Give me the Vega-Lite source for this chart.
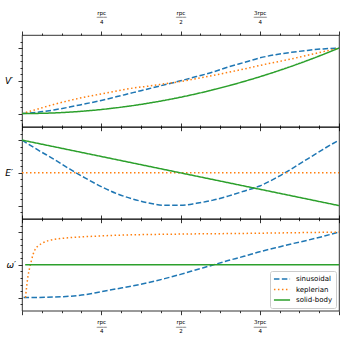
{
  "$schema": "https://vega.github.io/schema/vega-lite/v6.json",
  "padding": {"left": 3, "top": 9, "right": 3, "bottom": 3},
  "spacing": 0,
  "bounds": "flush",
  "config": {
    "font": "DejaVu Sans",
    "view": {"stroke": "black", "strokeWidth": 0.8},
    "axis": {"domain": false, "grid": false, "tickColor": "black", "labelColor": "black", "titleColor": "black"}
  },
  "resolve": {"legend": {"color": "independent", "strokeDash": "independent"}},
  "datasets": {
    "V": [
      {"series": "sinusoidal", "x": 0, "y": 0}, {"series": "sinusoidal", "x": 0.05, "y": 0.02}, {"series": "sinusoidal", "x": 0.1, "y": 0.055}, {"series": "sinusoidal", "x": 0.15, "y": 0.1}, {"series": "sinusoidal", "x": 0.2, "y": 0.15}, {"series": "sinusoidal", "x": 0.25, "y": 0.2}, {"series": "sinusoidal", "x": 0.3, "y": 0.26}, {"series": "sinusoidal", "x": 0.35, "y": 0.32}, {"series": "sinusoidal", "x": 0.4, "y": 0.38}, {"series": "sinusoidal", "x": 0.45, "y": 0.44}, {"series": "sinusoidal", "x": 0.5, "y": 0.5}, {"series": "sinusoidal", "x": 0.55, "y": 0.565}, {"series": "sinusoidal", "x": 0.6, "y": 0.63}, {"series": "sinusoidal", "x": 0.65, "y": 0.71}, {"series": "sinusoidal", "x": 0.7, "y": 0.78}, {"series": "sinusoidal", "x": 0.75, "y": 0.85}, {"series": "sinusoidal", "x": 0.8, "y": 0.9}, {"series": "sinusoidal", "x": 0.85, "y": 0.935}, {"series": "sinusoidal", "x": 0.9, "y": 0.965}, {"series": "sinusoidal", "x": 0.95, "y": 0.988}, {"series": "sinusoidal", "x": 1, "y": 1},
      {"series": "keplerian", "x": 0, "y": 0}, {"series": "keplerian", "x": 0.05, "y": 0.07}, {"series": "keplerian", "x": 0.1, "y": 0.14}, {"series": "keplerian", "x": 0.15, "y": 0.2}, {"series": "keplerian", "x": 0.2, "y": 0.255}, {"series": "keplerian", "x": 0.25, "y": 0.3}, {"series": "keplerian", "x": 0.3, "y": 0.345}, {"series": "keplerian", "x": 0.35, "y": 0.39}, {"series": "keplerian", "x": 0.4, "y": 0.42}, {"series": "keplerian", "x": 0.45, "y": 0.455}, {"series": "keplerian", "x": 0.5, "y": 0.49}, {"series": "keplerian", "x": 0.55, "y": 0.535}, {"series": "keplerian", "x": 0.6, "y": 0.58}, {"series": "keplerian", "x": 0.65, "y": 0.63}, {"series": "keplerian", "x": 0.7, "y": 0.68}, {"series": "keplerian", "x": 0.75, "y": 0.735}, {"series": "keplerian", "x": 0.8, "y": 0.785}, {"series": "keplerian", "x": 0.85, "y": 0.835}, {"series": "keplerian", "x": 0.9, "y": 0.89}, {"series": "keplerian", "x": 0.95, "y": 0.945}, {"series": "keplerian", "x": 1, "y": 1},
      {"series": "solid-body", "x": 0, "y": 0}, {"series": "solid-body", "x": 0.1, "y": 0.01}, {"series": "solid-body", "x": 0.2, "y": 0.04}, {"series": "solid-body", "x": 0.3, "y": 0.09}, {"series": "solid-body", "x": 0.4, "y": 0.16}, {"series": "solid-body", "x": 0.5, "y": 0.25}, {"series": "solid-body", "x": 0.6, "y": 0.36}, {"series": "solid-body", "x": 0.7, "y": 0.49}, {"series": "solid-body", "x": 0.8, "y": 0.64}, {"series": "solid-body", "x": 0.9, "y": 0.81}, {"series": "solid-body", "x": 1, "y": 1}
    ],
    "E": [
      {"series": "sinusoidal", "x": 0, "y": 1}, {"series": "sinusoidal", "x": 0.05, "y": 0.85}, {"series": "sinusoidal", "x": 0.1, "y": 0.71}, {"series": "sinusoidal", "x": 0.15, "y": 0.56}, {"series": "sinusoidal", "x": 0.2, "y": 0.42}, {"series": "sinusoidal", "x": 0.25, "y": 0.29}, {"series": "sinusoidal", "x": 0.3, "y": 0.18}, {"series": "sinusoidal", "x": 0.35, "y": 0.1}, {"series": "sinusoidal", "x": 0.4, "y": 0.04}, {"series": "sinusoidal", "x": 0.45, "y": 0.005}, {"series": "sinusoidal", "x": 0.5, "y": 0.005}, {"series": "sinusoidal", "x": 0.55, "y": 0.035}, {"series": "sinusoidal", "x": 0.6, "y": 0.08}, {"series": "sinusoidal", "x": 0.65, "y": 0.145}, {"series": "sinusoidal", "x": 0.7, "y": 0.22}, {"series": "sinusoidal", "x": 0.75, "y": 0.3}, {"series": "sinusoidal", "x": 0.8, "y": 0.42}, {"series": "sinusoidal", "x": 0.85, "y": 0.56}, {"series": "sinusoidal", "x": 0.9, "y": 0.71}, {"series": "sinusoidal", "x": 0.95, "y": 0.86}, {"series": "sinusoidal", "x": 1, "y": 1},
      {"series": "keplerian", "x": 0, "y": 0.5}, {"series": "keplerian", "x": 1, "y": 0.5},
      {"series": "solid-body", "x": 0, "y": 1}, {"series": "solid-body", "x": 1, "y": 0}
    ],
    "W": [
      {"series": "sinusoidal", "x": 0.005, "y": 0}, {"series": "sinusoidal", "x": 0.05, "y": 0.002}, {"series": "sinusoidal", "x": 0.1, "y": 0.008}, {"series": "sinusoidal", "x": 0.15, "y": 0.02}, {"series": "sinusoidal", "x": 0.2, "y": 0.045}, {"series": "sinusoidal", "x": 0.25, "y": 0.09}, {"series": "sinusoidal", "x": 0.3, "y": 0.135}, {"series": "sinusoidal", "x": 0.35, "y": 0.18}, {"series": "sinusoidal", "x": 0.4, "y": 0.23}, {"series": "sinusoidal", "x": 0.45, "y": 0.29}, {"series": "sinusoidal", "x": 0.5, "y": 0.355}, {"series": "sinusoidal", "x": 0.55, "y": 0.425}, {"series": "sinusoidal", "x": 0.6, "y": 0.495}, {"series": "sinusoidal", "x": 0.65, "y": 0.565}, {"series": "sinusoidal", "x": 0.7, "y": 0.63}, {"series": "sinusoidal", "x": 0.75, "y": 0.7}, {"series": "sinusoidal", "x": 0.8, "y": 0.76}, {"series": "sinusoidal", "x": 0.85, "y": 0.82}, {"series": "sinusoidal", "x": 0.9, "y": 0.875}, {"series": "sinusoidal", "x": 0.95, "y": 0.935}, {"series": "sinusoidal", "x": 1, "y": 1},
      {"series": "keplerian", "x": 0.011, "y": 0}, {"series": "keplerian", "x": 0.015, "y": 0.18}, {"series": "keplerian", "x": 0.019, "y": 0.33}, {"series": "keplerian", "x": 0.024, "y": 0.45}, {"series": "keplerian", "x": 0.029, "y": 0.55}, {"series": "keplerian", "x": 0.035, "y": 0.66}, {"series": "keplerian", "x": 0.041, "y": 0.73}, {"series": "keplerian", "x": 0.051, "y": 0.79}, {"series": "keplerian", "x": 0.064, "y": 0.83}, {"series": "keplerian", "x": 0.083, "y": 0.87}, {"series": "keplerian", "x": 0.104, "y": 0.89}, {"series": "keplerian", "x": 0.15, "y": 0.915}, {"series": "keplerian", "x": 0.2, "y": 0.93}, {"series": "keplerian", "x": 0.3, "y": 0.952}, {"series": "keplerian", "x": 0.5, "y": 0.97}, {"series": "keplerian", "x": 0.7, "y": 0.98}, {"series": "keplerian", "x": 0.85, "y": 0.99}, {"series": "keplerian", "x": 1, "y": 1},
      {"series": "solid-body", "x": 0.01, "y": 0.5}, {"series": "solid-body", "x": 1, "y": 0.5}
    ]
  },
  "vconcat": [
    {
      "width": 317, "height": 91.7,
      "data": {"name": "V"},
      "layer": [
        {
          "mark": {"type": "line", "strokeWidth": 1.5, "interpolate": "monotone"},
          "encoding": {
            "x": {"field": "x", "type": "quantitative", "scale": {"domain": [0, 1], "nice": false, "zero": false},
              "axis": {"orient": "bottom", "title": null, "labels": false, "values": [0,0.0625,0.125,0.1875,0.25,0.3125,0.375,0.4375,0.5,0.5625,0.625,0.6875,0.75,0.8125,0.875,0.9375,1],
                "tickSize": {"condition": {"test": "datum.value * 4 % 1 == 0", "value": 4}, "value": 2}, "tickWidth": 0.8}},
            "y": {"field": "y", "type": "quantitative", "scale": {"domain": [-0.2, 1.2], "nice": false, "zero": false},
              "axis": {"orient": "left", "title": "V′", "titleAngle": 0, "titleAlign": "right", "titleBaseline": "middle", "titleFontSize": 9, "titleFontStyle": "italic", "titleFontWeight": "normal", "titlePadding": 5, "labels": false,
                "values": [-0.1,0,0.1,0.2,0.3,0.4,0.5,0.6,0.7,0.8,0.9,1,1.1],
                "tickSize": {"condition": {"test": "datum.value * 2 % 1 == 0", "value": 4}, "value": 2}, "tickWidth": 0.8}},
            "color": {"field": "series", "type": "nominal", "scale": {"domain": ["sinusoidal", "keplerian", "solid-body"], "range": ["#1f77b4", "#ff7f0e", "#2ca02c"]}, "legend": null},
            "strokeDash": {"field": "series", "type": "nominal", "scale": {"domain": ["sinusoidal", "keplerian", "solid-body"], "range": [[5.5, 2.4], [1.5, 2.5], [1, 0]]}, "legend": null}
          }
        },
        {
          "mark": {"type": "point", "opacity": 0},
          "encoding": {
            "x": {"field": "x", "type": "quantitative",
              "axis": {"orient": "top", "title": null, "values": [0,0.0625,0.125,0.1875,0.25,0.3125,0.375,0.4375,0.5,0.5625,0.625,0.6875,0.75,0.8125,0.875,0.9375,1],
                "labelExpr": "datum.value == 0.25 ? ['rpc','───','4'] : datum.value == 0.5 ? ['rpc','───','2'] : datum.value == 0.75 ? ['3rpc','────','4'] : ''",
                "labelFontSize": 5.5, "labelLineHeight": 4.5, "labelBaseline": "top", "labelPadding": 21, "labelOverlap": false, "labelFlush": false,
                "tickSize": {"condition": {"test": "datum.value * 4 % 1 == 0", "value": 4}, "value": 2}, "tickWidth": 0.8}},
            "y": {"field": "y", "type": "quantitative", "axis": null}
          }
        }
      ],
      "resolve": {"axis": {"x": "independent", "y": "independent"}}
    },
    {
      "width": 317, "height": 91.7,
      "data": {"name": "E"},
      "layer": [
        {
          "mark": {"type": "line", "strokeWidth": 1.5, "interpolate": "monotone"},
          "encoding": {
            "x": {"field": "x", "type": "quantitative", "scale": {"domain": [0, 1], "nice": false, "zero": false},
              "axis": {"orient": "bottom", "title": null, "labels": false, "values": [0,0.0625,0.125,0.1875,0.25,0.3125,0.375,0.4375,0.5,0.5625,0.625,0.6875,0.75,0.8125,0.875,0.9375,1],
                "tickSize": {"condition": {"test": "datum.value * 4 % 1 == 0", "value": 4}, "value": 2}, "tickWidth": 0.8}},
            "y": {"field": "y", "type": "quantitative", "scale": {"domain": [-0.2, 1.2], "nice": false, "zero": false},
              "axis": {"orient": "left", "title": "E′", "titleAngle": 0, "titleAlign": "right", "titleBaseline": "middle", "titleFontSize": 9, "titleFontStyle": "italic", "titleFontWeight": "normal", "titlePadding": 5, "labels": false,
                "values": [-0.1,0,0.1,0.2,0.3,0.4,0.5,0.6,0.7,0.8,0.9,1,1.1],
                "tickSize": {"condition": {"test": "datum.value * 2 % 1 == 0", "value": 4}, "value": 2}, "tickWidth": 0.8}},
            "color": {"field": "series", "type": "nominal", "scale": {"domain": ["sinusoidal", "keplerian", "solid-body"], "range": ["#1f77b4", "#ff7f0e", "#2ca02c"]}, "legend": null},
            "strokeDash": {"field": "series", "type": "nominal", "scale": {"domain": ["sinusoidal", "keplerian", "solid-body"], "range": [[5.5, 2.4], [1.5, 2.5], [1, 0]]}, "legend": null}
          }
        },
        {
          "mark": {"type": "point", "opacity": 0},
          "encoding": {
            "x": {"field": "x", "type": "quantitative",
              "axis": {"orient": "top", "title": null, "labels": false, "values": [0,0.0625,0.125,0.1875,0.25,0.3125,0.375,0.4375,0.5,0.5625,0.625,0.6875,0.75,0.8125,0.875,0.9375,1],
                "tickSize": {"condition": {"test": "datum.value * 4 % 1 == 0", "value": 4}, "value": 2}, "tickWidth": 0.8}},
            "y": {"field": "y", "type": "quantitative", "axis": null}
          }
        }
      ],
      "resolve": {"axis": {"x": "independent", "y": "independent"}}
    },
    {
      "width": 317, "height": 91.7,
      "data": {"name": "W"},
      "layer": [
        {
          "mark": {"type": "line", "strokeWidth": 1.5, "interpolate": "monotone"},
          "encoding": {
            "x": {"field": "x", "type": "quantitative", "scale": {"domain": [0, 1], "nice": false, "zero": false},
              "axis": {"orient": "bottom", "title": null, "values": [0,0.0625,0.125,0.1875,0.25,0.3125,0.375,0.4375,0.5,0.5625,0.625,0.6875,0.75,0.8125,0.875,0.9375,1],
                "labelExpr": "datum.value == 0.25 ? ['rpc','───','4'] : datum.value == 0.5 ? ['rpc','───','2'] : datum.value == 0.75 ? ['3rpc','────','4'] : ''",
                "labelFontSize": 5.5, "labelLineHeight": 4.5, "labelPadding": 5, "labelOverlap": false, "labelFlush": false,
                "tickSize": {"condition": {"test": "datum.value * 4 % 1 == 0", "value": 4}, "value": 2}, "tickWidth": 0.8}},
            "y": {"field": "y", "type": "quantitative", "scale": {"domain": [-0.2, 1.2], "nice": false, "zero": false},
              "axis": {"orient": "left", "title": "ω′", "titleAngle": 0, "titleAlign": "right", "titleBaseline": "middle", "titleFontSize": 9, "titleFontStyle": "italic", "titleFontWeight": "normal", "titlePadding": 2, "labels": false,
                "values": [-0.1,0,0.1,0.2,0.3,0.4,0.5,0.6,0.7,0.8,0.9,1,1.1],
                "tickSize": {"condition": {"test": "datum.value * 2 % 1 == 0", "value": 4}, "value": 2}, "tickWidth": 0.8}},
            "color": {"field": "series", "type": "nominal", "scale": {"domain": ["sinusoidal", "keplerian", "solid-body"], "range": ["#1f77b4", "#ff7f0e", "#2ca02c"]},
              "legend": {"orient": "bottom-right", "title": null, "symbolType": "stroke", "symbolStrokeWidth": 1.5, "symbolSize": 260, "labelFontSize": 7, "labelColor": "black", "fillColor": "rgba(255,255,255,0.8)", "strokeColor": "#cccccc", "cornerRadius": 2, "padding": 3, "offset": 3, "clipHeight": 10, "rowPadding": 0.5, "labelOffset": 5}},
            "strokeDash": {"field": "series", "type": "nominal", "scale": {"domain": ["sinusoidal", "keplerian", "solid-body"], "range": [[5.5, 2.4], [1.5, 2.5], [1, 0]]},
              "legend": {"orient": "bottom-right", "title": null, "symbolType": "stroke", "symbolStrokeWidth": 1.5, "symbolSize": 260, "labelFontSize": 7, "labelColor": "black", "fillColor": "rgba(255,255,255,0.8)", "strokeColor": "#cccccc", "cornerRadius": 2, "padding": 3, "offset": 3, "clipHeight": 10, "rowPadding": 0.5, "labelOffset": 5}}
          }
        },
        {
          "mark": {"type": "point", "opacity": 0},
          "encoding": {
            "x": {"field": "x", "type": "quantitative",
              "axis": {"orient": "top", "title": null, "labels": false, "values": [0,0.0625,0.125,0.1875,0.25,0.3125,0.375,0.4375,0.5,0.5625,0.625,0.6875,0.75,0.8125,0.875,0.9375,1],
                "tickSize": {"condition": {"test": "datum.value * 4 % 1 == 0", "value": 4}, "value": 2}, "tickWidth": 0.8}},
            "y": {"field": "y", "type": "quantitative", "axis": null}
          }
        }
      ],
      "resolve": {"axis": {"x": "independent", "y": "independent"}}
    }
  ]
}
